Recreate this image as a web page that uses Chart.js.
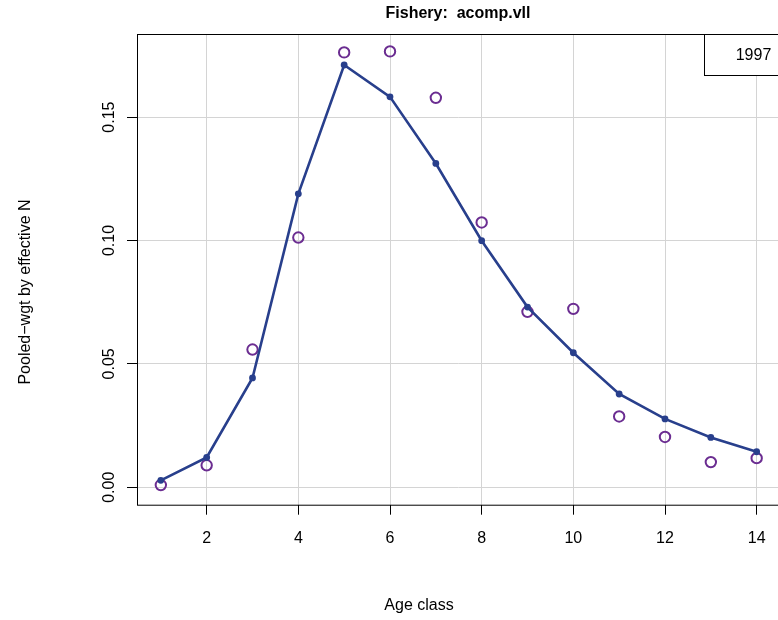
<!DOCTYPE html>
<html>
<head>
<meta charset="utf-8">
<script src="https://cdn.jsdelivr.net/npm/chart.js@4"></script>
<style>
  html, body { margin: 0; padding: 0; background: #fff; }
  #wrap { width: 778px; height: 620px; overflow: hidden; position: relative; }
  canvas { display: block; }
</style>
</head>
<body>
<div id="wrap"><canvas id="fitChart" width="800" height="620" style="width:800px;height:620px"></canvas></div>
<script>
// --- DATA ---
const ages = [1, 2, 3, 4, 5, 6, 7, 8, 9, 10, 11, 12, 13, 14];
const expected = [0.0028, 0.0121, 0.0443, 0.1189, 0.1711, 0.1582, 0.1312, 0.0999, 0.0730, 0.0545, 0.0378, 0.0277, 0.0202, 0.0144];
const observed = [0.0009, 0.0089, 0.0558, 0.1012, 0.1762, 0.1766, 0.1578, 0.1073, 0.0711, 0.0723, 0.0287, 0.0204, 0.0102, 0.0118];
const xTicks = [2, 4, 6, 8, 10, 12, 14];
const yTicks = [0.00, 0.05, 0.10, 0.15];
const yTickLabels = ['0.00', '0.05', '0.10', '0.15'];
const chartTitle = 'Fishery:  acomp.vll';
const xTitle = 'Age class';
const yTitle = 'Pooled\u2212wgt by effective N';
const legendText = '1997';

const FONT = '"Liberation Sans", Arial, Helvetica, sans-serif';
const LINE_BLUE = '#283f8c';
const OBS_PURPLE = '#6b2d91';
const GRID = '#d4d4d4';

// --- HJÆLPEPLUGIN: titel, akser, boks og legende ---
const decorPlugin = {
    id: 'decor',
    afterDraw(chart) {
        const { ctx, chartArea } = chart;
        const yScale = chart.scales.y;
        ctx.save();
        ctx.fillStyle = '#000';

        // y tick labels, rotated like R (las = 0)
        ctx.font = '16px ' + FONT;
        ctx.textAlign = 'center';
        ctx.textBaseline = 'alphabetic';
        yTicks.forEach((v, i) => {
            const py = yScale.getPixelForValue(v);
            ctx.save();
            ctx.translate(114, py);
            ctx.rotate(-Math.PI / 2);
            ctx.fillText(yTickLabels[i], 0, 0);
            ctx.restore();
        });

        // main title
        ctx.font = 'bold 16px ' + FONT;
        ctx.textBaseline = 'middle';
        ctx.fillText(chartTitle, 458, 14);

        // axis titles
        ctx.font = '16px ' + FONT;
        ctx.fillText(xTitle, 419, 606);
        ctx.save();
        ctx.translate(26, 292);
        ctx.rotate(-Math.PI / 2);
        ctx.fillText(yTitle, 0, 0);
        ctx.restore();

        // plot box
        ctx.strokeStyle = '#000';
        ctx.lineWidth = 1;
        ctx.strokeRect(Math.round(chartArea.left) + 0.5, Math.round(chartArea.top) + 0.5,
            chartArea.right - chartArea.left, chartArea.bottom - chartArea.top);

        // legend box in the top right corner
        const lx = 704.5, ly = Math.round(chartArea.top) + 0.5;
        ctx.fillStyle = '#fff';
        ctx.fillRect(lx, ly, 100, 41);
        ctx.strokeRect(lx, ly, 100, 41);
        ctx.fillStyle = '#000';
        ctx.textAlign = 'center';
        ctx.fillText(legendText, 753.5, ly + 21);
        ctx.restore();
    }
};

const ctx = document.getElementById('fitChart').getContext('2d');
new Chart(ctx, {
    type: 'line',
    data: {
        datasets: [
            {
                label: 'expected',
                data: ages.map((a, i) => ({ x: a, y: expected[i] })),
                borderColor: LINE_BLUE,
                backgroundColor: LINE_BLUE,
                borderWidth: 2.6,
                pointRadius: 3.4,
                pointBorderWidth: 0,
                tension: 0,
                order: 0
            },
            {
                label: 'observed',
                data: ages.map((a, i) => ({ x: a, y: observed[i] })),
                showLine: false,
                borderColor: OBS_PURPLE,
                backgroundColor: 'rgba(0,0,0,0)',
                pointRadius: 5.2,
                pointBorderWidth: 2,
                order: 1
            }
        ]
    },
    options: {
        responsive: false,
        animation: false,
        devicePixelRatio: 1,
        layout: { padding: { left: 0, top: 34, right: 19.5, bottom: 0 } },
        plugins: { legend: { display: false }, tooltip: { enabled: false } },
        scales: {
            x: {
                type: 'linear',
                min: 0.48,
                max: 14.52,
                afterBuildTicks: (scale) => { scale.ticks = xTicks.map(v => ({ value: v })); },
                afterFit: (scale) => { scale.height = 115.3; },
                grid: { color: GRID, lineWidth: 1, tickColor: '#000', tickLength: 10 },
                border: { display: false },
                ticks: {
                    color: '#000',
                    font: { family: FONT, size: 16 },
                    padding: 14,
                    maxRotation: 0,
                    autoSkip: false
                }
            },
            y: {
                type: 'linear',
                min: -0.00706,
                max: 0.18366,
                afterBuildTicks: (scale) => { scale.ticks = yTicks.map(v => ({ value: v })); },
                afterFit: (scale) => { scale.width = 137; },
                grid: { color: GRID, lineWidth: 1, tickColor: '#000', tickLength: 10 },
                border: { display: false },
                ticks: { display: false }
            }
        }
    },
    plugins: [decorPlugin]
});
</script>
</body>
</html>
